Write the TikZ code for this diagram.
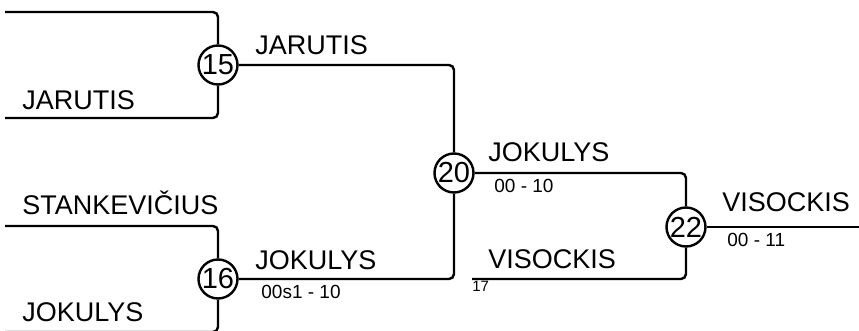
\documentclass[tikz,border=0pt]{standalone}
\usepackage{fontspec}
\setmainfont{Liberation Sans}
\usepackage{tikz}
\usetikzlibrary{positioning}
\tikzset{
  wire/.style={line width=1.2pt,rounded corners=2.5pt},
  seed/.style={circle,draw,line width=1.2pt,minimum size=19.5pt,inner sep=0pt,
    font=\fontsize{14.5}{15}\selectfont},
  player/.style={anchor=base west,inner sep=0pt,font=\fontsize{13.5}{14}\selectfont},
  score/.style={anchor=base west,inner sep=0pt,font=\fontsize{9.5}{10}\selectfont},
  seedno/.style={anchor=base west,inner sep=0pt,font=\fontsize{7.5}{8}\selectfont}
}

\begin{document}
\begin{tikzpicture}[x=0.5pt,y=-0.5pt]
  \useasboundingbox (0,0) rectangle (859,331);
  % free ends
  \coordinate (a1) at (5,12);
  \coordinate (a2) at (5,118);
  \coordinate (b1) at (5,226);
  \coordinate (b2) at (5,332);
  \coordinate (f17) at (472,279);
  \coordinate (out) at (859,227);
  % games
  \node[seed] (s15) at (218,65) {15};
  \node[seed] (s16) at (218,279) {16};
  \node[seed] (s20) at (454,173) {20};
  \node[seed] (s22) at (686,227) {22};
  % brackets
  \draw[wire] (a1) -| (s15);
  \draw[wire] (a2) -| (s15);
  \draw[wire] (b1) -| (s16);
  \draw[wire] (b2) -| (s16);
  \draw[wire] (s15) -| (s20);
  \draw[wire] (s16) -| (s20);
  \draw[wire] (s20) -| (s22);
  \draw[wire] (f17) -| (s22);
  \draw[wire] (s22) -- (out);
  % names
  \node[player] (n1) at (22,110) {JARUTIS};
  \node[player] (n2) at (22,215) {STANKEVIČIUS};
  \node[player] (n3) at (22,322) {JOKULYS};
  \node[player] (n4) at (255,55) {JARUTIS};
  \node[player] (n5) at (255,270) {JOKULYS};
  \node[player] (n6) at (488,162) {JOKULYS};
  \node[player] (n7) at (488,269) {VISOCKIS};
  \node[player] (n8) at (722,212) {VISOCKIS};
  % scores
  \node[score] (r16) at (261,299) {00s1 - 10};
  \node[score] (r20) at (494,193) {00 - 10};
  \node[score] (r22) at (727,247) {00 - 11};
  \node[seedno] (r17) at (472,292) {17};
\end{tikzpicture}
\end{document}
